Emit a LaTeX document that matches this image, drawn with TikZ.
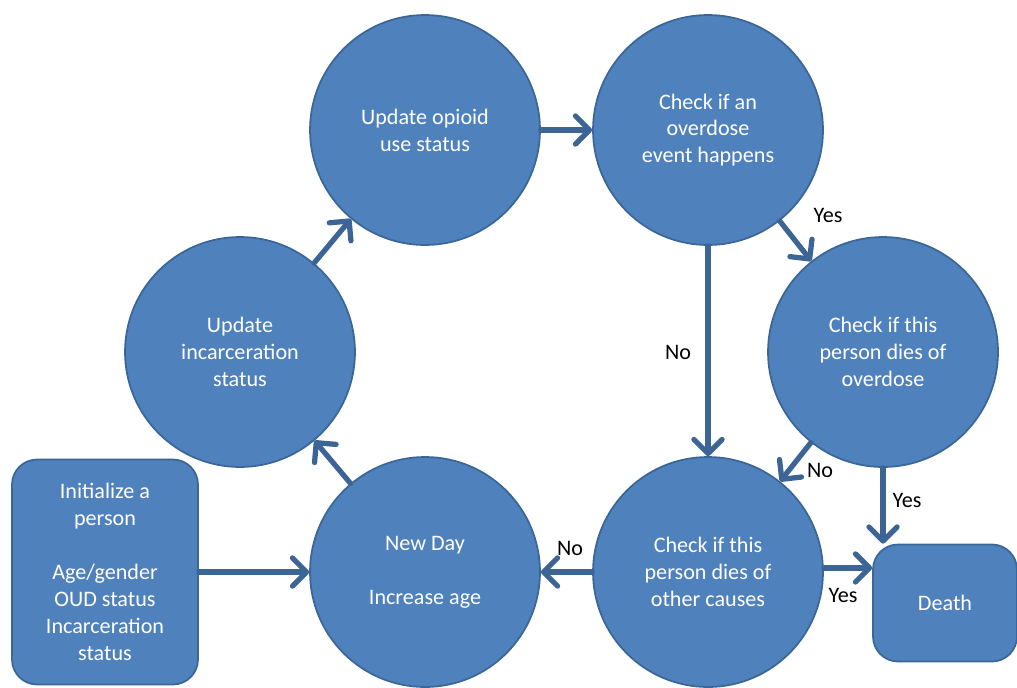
\documentclass[tikz,border=0pt]{standalone}
\usepackage{fontspec}
\setmainfont{Carlito}
\usetikzlibrary{arrows.meta}
\definecolor{boxblue}{HTML}{4F81BD}
\definecolor{edgeblue}{HTML}{3A6797}
\definecolor{arrowblue}{HTML}{3C6596}

\tikzset{
  stage/.style={circle, fill=boxblue, draw=edgeblue, line width=1pt,
    minimum size=4.6cm, inner sep=0pt, text=white, align=center,
    font=\fontsize{12.6}{15.3}\selectfont},
  card/.style={rounded corners=0.5cm, fill=boxblue, draw=edgeblue, line width=1pt,
    inner sep=0pt, text=white, align=center,
    font=\fontsize{12.6}{15.3}\selectfont},
  flow/.style={draw=arrowblue, line width=3pt, line cap=round,
    -{Straight Barb[length=8pt,width=16pt,line cap=round,line join=round]}},
  answer/.style={text=black, font=\fontsize{12.6}{15.3}\selectfont}
}

\begin{document}
\begin{tikzpicture}[x=0.02cm, y=-0.02cm]
\useasboundingbox (0,0) rectangle (1017,687);
\clip (0,0) rectangle (1017,687);

% the daily loop
\node[stage] (opioid) at (425,130) {Update opioid\\use status};
\node[stage] (overdose) at (708,130) {Check if an\\overdose\\event happens};
\node[stage] (diesod) at (883,352) {Check if this\\person dies of\\overdose};
\node[stage] (diesother) at (708,572) {Check if this\\person dies of\\other causes};
\node[stage] (newday) at (425,572) {New Day\\[15.3pt]Increase age};
\node[stage] (jail) at (240,352) {Update\\incarceration\\status};

% start and end
\node[card, minimum width=3.72cm, minimum height=4.5cm] (init) at (105,572)
  {Initialize a\\person\\[15.3pt]Age/gender\\OUD status\\Incarceration\\status};
\node[card, minimum width=2.88cm, minimum height=2.34cm] (death) at (945,603) {Death};

\draw[flow] (opioid) -- (overdose);
\draw[flow] (overdose) -- (diesod);
\draw[flow] (overdose) -- (diesother);
\draw[flow] (diesod) -- (diesother);
\draw[flow] (diesod.south) -- (diesod.south |- death.north);
\draw[flow] (diesother.2) -- (diesother.2 -| death.west);
\draw[flow] (diesother) -- (newday);
\draw[flow] (newday) -- (jail);
\draw[flow] (jail) -- (opioid);
\draw[flow] (init) -- (newday);

\node[answer] (yesod) at (828,215) {Yes};
\node[answer] (nood) at (678,352) {No};
\node[answer] (nodies) at (820,470) {No};
\node[answer] (yesdies) at (907,500) {Yes};
\node[answer] (yesother) at (843,595) {Yes};
\node[answer] (noother) at (570,548) {No};
\end{tikzpicture}
\end{document}
